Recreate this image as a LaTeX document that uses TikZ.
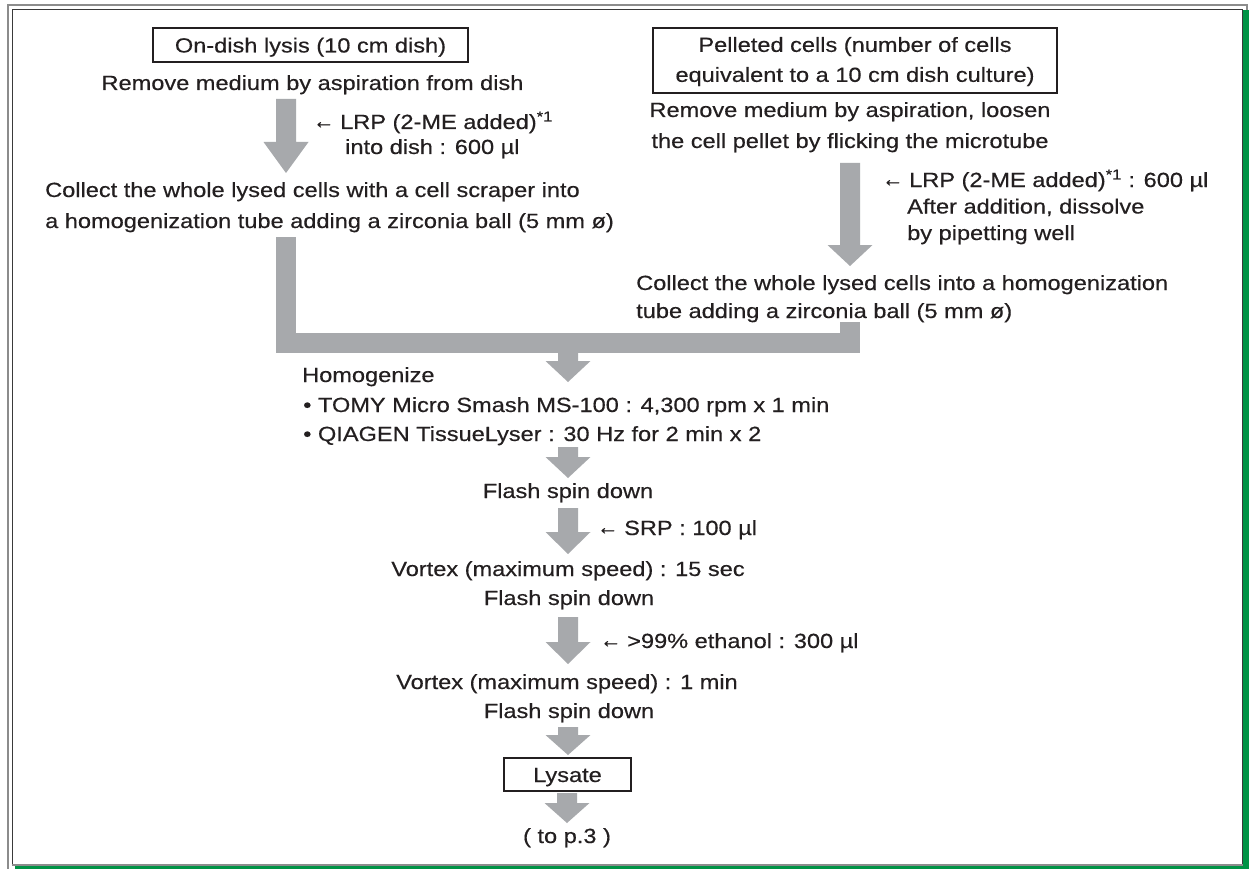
\documentclass[tikz,border=0pt]{standalone}
\usepackage{fontspec}
\setmainfont{Liberation Sans}[FakeStretch=1.15,FakeBold=0.4]
\usetikzlibrary{calc}
\definecolor{ink}{HTML}{231F20}
\definecolor{arrowgray}{HTML}{A7A9AC}
\definecolor{framegray}{HTML}{8C8C8C}
\definecolor{framedark}{HTML}{3A3A3A}
\definecolor{shadowgreen}{RGB}{0,147,69}
\newcommand{\addarrow}{\makebox[27pt][l]{\raisebox{0.5pt}{\scalebox{0.9}[1.1]{←}}}}
\tikzset{
  txt/.style={inner sep=0pt, text=ink, font=\fontsize{20.5}{25}\selectfont},
  boxed/.style={draw=ink, line width=1.1pt, inner sep=0pt, text=ink,
                font=\fontsize{20.5}{30}\selectfont, align=center},
  blockarrow/.style={to path={let \p1=(\tikztostart), \p2=(\tikztotarget) in
     (\x1-10pt,\y1) -- (\x1+10pt,\y1) -- (\x1+10pt,\y2+#1pt) -- (\x1+22.5pt,\y2+#1pt)
     -- (\x1,\y2) -- (\x1-22.5pt,\y2+#1pt) -- (\x1-10pt,\y2+#1pt) -- cycle}},
  blockarrow/.default=21
}
\begin{document}
\begin{tikzpicture}[x=1pt,y=-1pt]
\useasboundingbox (0,0) rectangle (1249,869);
% frame
\fill[white] (0,0) rectangle (1249,869);
\fill[shadowgreen] (15,10) rectangle (1249,869);
\fill[white] (12,9.5) rectangle (1242.5,865);
\draw[framegray, line width=2pt] (7.5,869) -- (7.5,5) -- (1246.5,5) -- (1246.5,10);
\draw[framedark, line width=1.5pt] (12.5,864.5) -- (12.5,9.5) -- (1242.5,9.5) -- (1242.5,864.5);
\draw[framegray, line width=2pt] (11.75,864.5) -- (1243.25,864.5);

% left column
\node[boxed, minimum width=315pt, minimum height=34pt, text height=15pt, text depth=0pt] (box1) at (310.5,45) {On-dish lysis (10 cm dish)};
\node[txt, anchor=base] (rm1) at (312.5,90) {Remove medium by aspiration from dish};
\node[txt, anchor=base west] (lab1a) at (313,129) {\addarrow LRP (2-ME added)\textsuperscript{*1}};
\node[txt, anchor=base west] (lab1b) at (345,154) {into dish : 600 µl};
\node[txt, anchor=base west] (col1a) at (45,197) {Collect the whole lysed cells with a cell scraper into};
\node[txt, anchor=base west] (col1b) at (45,228) {a homogenization tube adding a zirconia ball (5 mm ø)};

% right column
\node[boxed, minimum width=404pt, minimum height=65pt] (box2) at (855,60.5) {\rule{0pt}{17pt}Pelleted cells (number of cells\\equivalent to a 10 cm dish culture)};
\node[txt, anchor=base] (rm2a) at (850,117) {Remove medium by aspiration, loosen};
\node[txt, anchor=base] (rm2b) at (850,148) {the cell pellet by flicking the microtube};
\node[txt, anchor=base west] (lab2a) at (882,187) {\addarrow LRP (2-ME added)\textsuperscript{*1} : 600 µl};
\node[txt, anchor=base west] (lab2b) at (907,213.5) {After addition, dissolve};
\node[txt, anchor=base west] (lab2c) at (907,240) {by pipetting well};
\node[txt, anchor=base west] (col2a) at (636,290) {Collect the whole lysed cells into a homogenization};
\node[txt, anchor=base west] (col2b) at (636,318) {tube adding a zirconia ball (5 mm ø)};

% centre column
\node[txt, anchor=base west] (hom) at (302,382) {Homogenize};
\node[txt, anchor=base west] (hom1) at (303,412) {• TOMY Micro Smash MS-100 : 4,300 rpm x 1 min};
\node[txt, anchor=base west] (hom2) at (303,441) {• QIAGEN TissueLyser : 30 Hz for 2 min x 2};
\node[txt, anchor=base] (fl1) at (568,498) {Flash spin down};
\node[txt, anchor=base west] (srp) at (597,535) {\addarrow SRP : 100 µl};
\node[txt, anchor=base] (vx1) at (568,576) {Vortex (maximum speed) : 15 sec};
\node[txt, anchor=base] (fl2) at (569,605) {Flash spin down};
\node[txt, anchor=base west] (eth) at (600,648) {\addarrow >99\% ethanol : 300 µl};
\node[txt, anchor=base] (vx2) at (567,689) {Vortex (maximum speed) : 1 min};
\node[txt, anchor=base] (fl3) at (569,718) {Flash spin down};
\node[boxed, minimum width=127pt, minimum height=33pt, text height=15pt, text depth=0pt] (lys) at (567.5,774.5) {Lysate};
\node[txt, anchor=base] (top3) at (567,843) {( to p.3 )};

% arrow end points
\coordinate (a1s) at (286,99);  \coordinate (a1e) at (286,173);
\coordinate (a2s) at (850,163); \coordinate (a2e) at (850,266);
\coordinate (jl) at (286,237);  \coordinate (jm) at (568,343); \coordinate (jr) at (850,322);
\coordinate (ms) at (568,352);  \coordinate (me) at (568,382);
\coordinate (a3s) at (568,447); \coordinate (a3e) at (568,478);
\coordinate (a4s) at (568,508); \coordinate (a4e) at (568,554);
\coordinate (a5s) at (568,617); \coordinate (a5e) at (568,664);
\coordinate (a6s) at (568,727); \coordinate (a6e) at (568,755);
\coordinate (a7s) at (567,793); \coordinate (a7e) at (567,823);

% connectors
\fill[arrowgray] (a1s) to[blockarrow=31] (a1e);
\fill[arrowgray] (a2s) to[blockarrow=21] (a2e);
\draw[arrowgray, line width=20pt] (jl) |- (jm) -| (jr);
\fill[arrowgray] (ms) to[blockarrow=21] (me);
\fill[arrowgray] (a3s) to[blockarrow=21] (a3e);
\fill[arrowgray] (a4s) to[blockarrow=22] (a4e);
\fill[arrowgray] (a5s) to[blockarrow=22] (a5e);
\fill[arrowgray] (a6s) to[blockarrow=20] (a6e);
\fill[arrowgray] (a7s) to[blockarrow=20] (a7e);
\end{tikzpicture}
\end{document}
